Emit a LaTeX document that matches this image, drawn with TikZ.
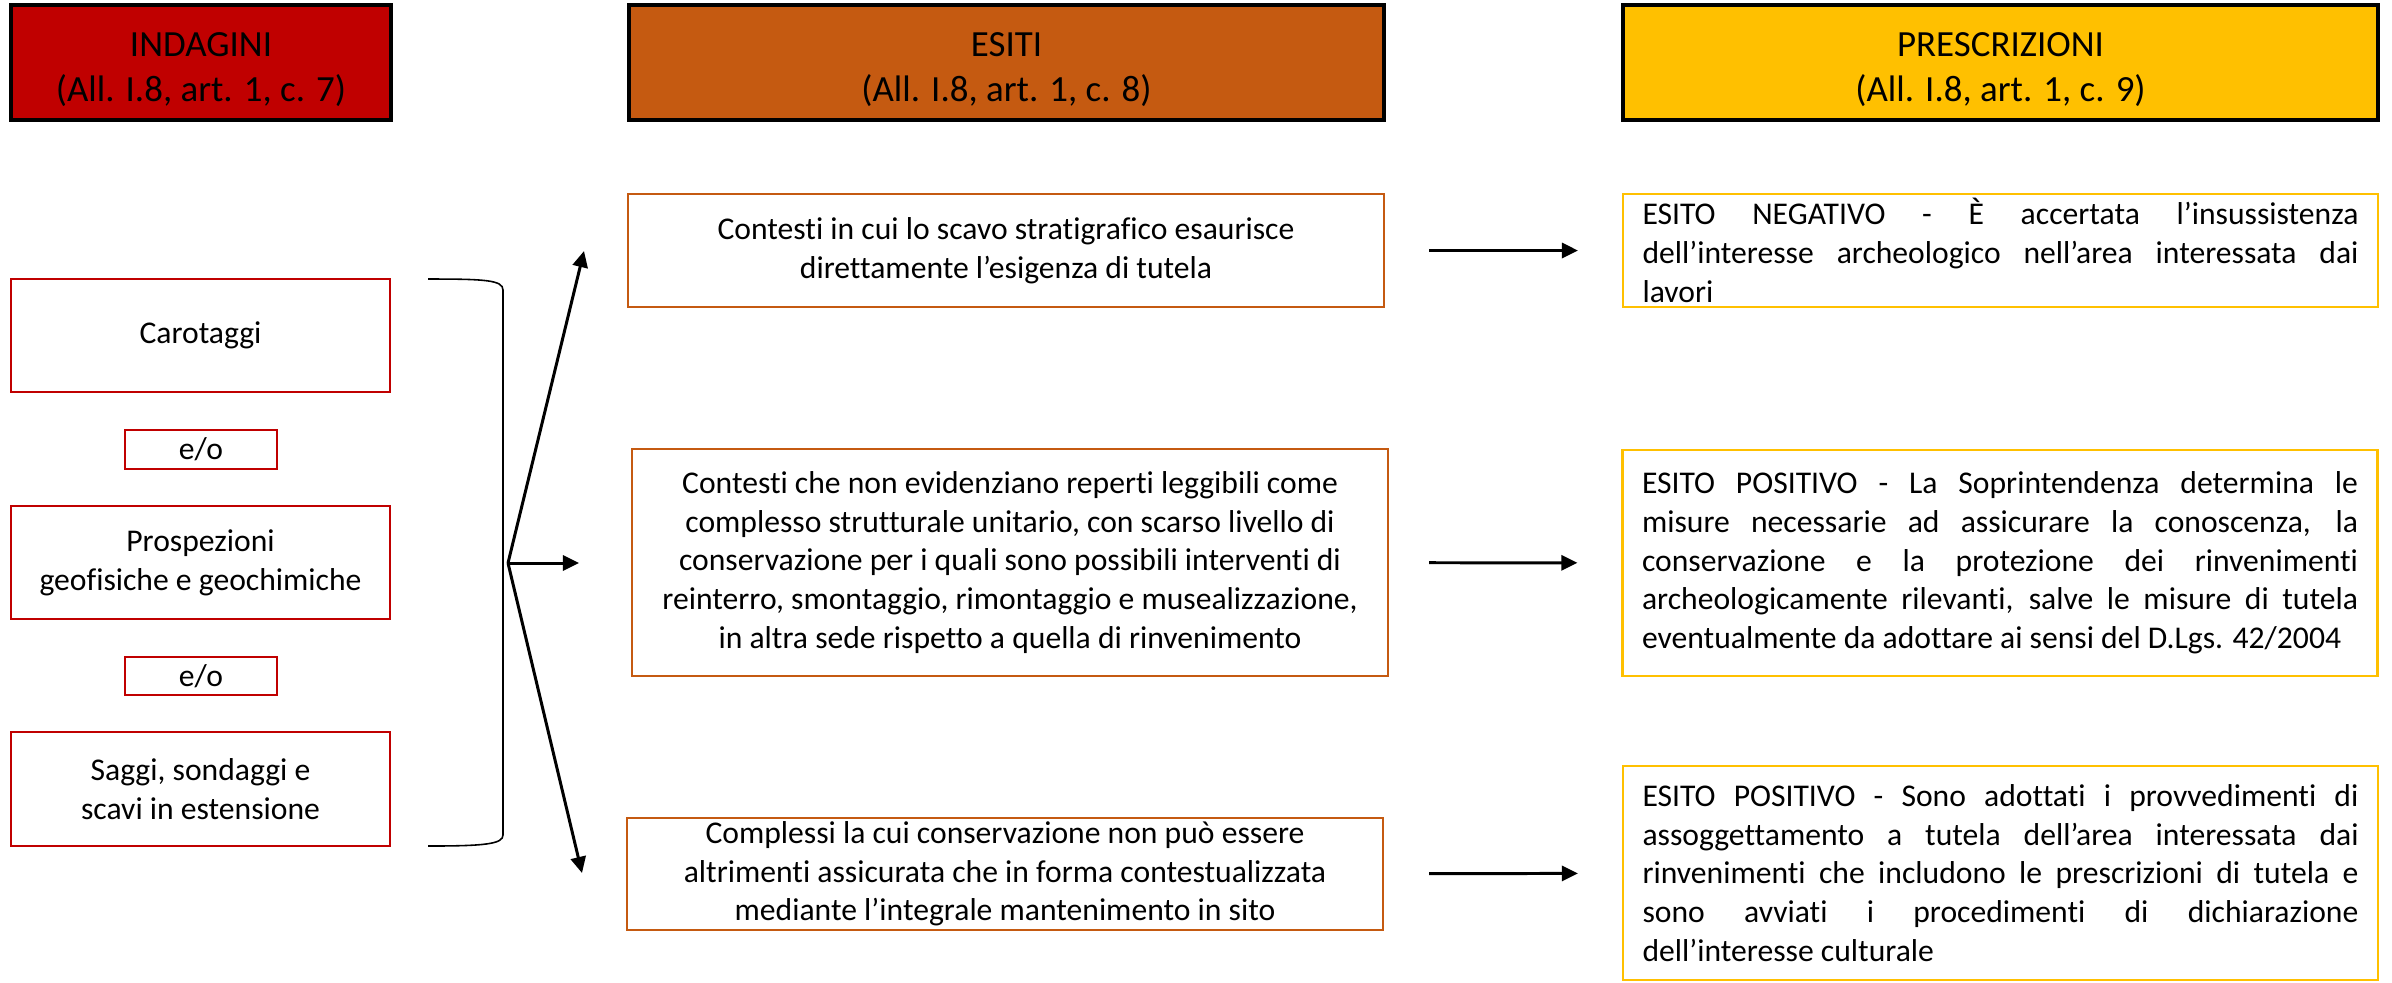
\documentclass[tikz,border=0pt]{standalone}
\usepackage{fontspec}
\setmainfont{Carlito}[Ligatures={NoCommon}]
\usetikzlibrary{arrows.meta}
\definecolor{redc}{HTML}{C00000}
\definecolor{orangec}{HTML}{C55A11}
\definecolor{yellowc}{HTML}{FFC000}
\begin{document}
\begin{tikzpicture}[x=0.1mm,y=-0.1mm,
  hdr/.style={draw=black, line width=0.9pt, inner sep=0pt, minimum height=11.5mm},
  hdrtext/.style={font=\fontsize{10.5}{12.8}\selectfont, align=center, inner sep=0pt, text=black},
  body/.style={font=\fontsize{9}{11}\selectfont, inner sep=0pt},
  ind/.style={body, draw=redc, line width=0.6pt, align=center, minimum width=37.9mm, minimum height=11.3mm},
  eo/.style={body, draw=redc, line width=0.6pt, align=center, minimum width=15.2mm, minimum height=3.85mm},
  esi/.style={body, draw=orangec, line width=0.6pt, align=center, minimum width=75.6mm},
  pre/.style={body, draw=yellowc, line width=0.6pt, minimum width=75.5mm, text width=71.6mm, align=justify},
  arr/.style={line width=0.85pt, -{Triangle[length=4.6pt,width=4.3pt]}},
  brc/.style={line width=0.45pt}
]
\useasboundingbox (0,0) rectangle (2392,982);

% headers
\node[hdr, fill=redc, minimum width=38mm] (h1) at (201,62.5) {};
\node[hdrtext] (h1t) at ([yshift=-2pt]h1.center) {INDAGINI\\(All. I.8, art. 1, c. 7)};
\node[hdr, fill=orangec, minimum width=75.5mm] (h2) at (1006.5,62.5) {};
\node[hdrtext] (h2t) at ([yshift=-2pt]h2.center) {ESITI\\(All. I.8, art. 1, c. 8)};
\node[hdr, fill=yellowc, minimum width=75.5mm] (h3) at (2000.5,62.5) {};
\node[hdrtext] (h3t) at ([yshift=-2pt]h3.center) {PRESCRIZIONI\\(All. I.8, art. 1, c. 9)};

% indagini
\node[ind] (car) at (200.5,335.5) {Carotaggi};
\node[eo] (eo1) at (201,449.5) {e/o};
\node[ind] (pro) at (200.5,562.5) {Prospezioni\\geofisiche e geochimiche};
\node[eo] (eo2) at (201,676) {e/o};
\node[ind, minimum height=11.4mm] (sag) at (200.5,789) {Saggi, sondaggi e\\scavi in estensione};

% brace
\draw[brc] (428,279) .. controls (485,279) and (503,280) .. (503,290) -- (503,835) .. controls (503,844) and (485,846) .. (428,846);

% fork
\coordinate (fork) at (508,563);
\coordinate (t1) at (584,251);
\coordinate (t2) at (579,563);
\coordinate (t3) at (582,873);
\draw[arr] (fork) -- (t1);
\draw[arr] (fork) -- (t2);
\draw[arr] (fork) -- (t3);

% esiti
\node[esi, minimum height=11.3mm] (e1) at (1006,250.5) {Contesti in cui lo scavo stratigrafico esaurisce\\direttamente l’esigenza di tutela};
\node[esi, minimum height=22.7mm] (e2) at (1010,562.5) {Contesti che non evidenziano reperti leggibili come\\complesso strutturale unitario, con scarso livello di\\conservazione per i quali sono possibili interventi di\\reinterro, smontaggio, rimontaggio e musealizzazione,\\in altra sede rispetto a quella di rinvenimento};
\node[esi, minimum height=11.2mm] (e3) at (1005,874) {Complessi la cui conservazione non può essere\\altrimenti assicurata che in forma contestualizzata\\mediante l’integrale mantenimento in sito};

% prescrizioni
\node[pre, minimum height=11.3mm] (p1) at (2000.5,250.5) {ESITO NEGATIVO - È accertata l’insussistenza\linebreak dell’interesse archeologico nell’area interessata dai\linebreak lavori};
\node[pre, minimum height=22.6mm] (p2) at (2000,563) {ESITO POSITIVO - La Soprintendenza determina le\linebreak misure necessarie ad assicurare la conoscenza, la\linebreak conservazione e la protezione dei rinvenimenti\linebreak archeologicamente rilevanti, salve le misure di tutela\linebreak eventualmente da adottare ai sensi del D.Lgs. 42/2004};
\node[pre, minimum height=21.4mm] (p3) at (2000.5,873) {ESITO POSITIVO - Sono adottati i provvedimenti di\linebreak assoggettamento a tutela dell’area interessata dai\linebreak rinvenimenti che includono le prescrizioni di tutela e\linebreak sono avviati i procedimenti di dichiarazione\linebreak dell’interesse culturale};

% connectors esiti -> prescrizioni
\draw[arr, shorten <=4.4mm, shorten >=4.4mm] (e1) -- (p1);
\draw[arr, shorten <=4.0mm, shorten >=4.4mm] (e2) -- (p2);
\draw[arr, shorten <=4.5mm, shorten >=4.4mm] (e3) -- (p3);
\end{tikzpicture}
\end{document}
